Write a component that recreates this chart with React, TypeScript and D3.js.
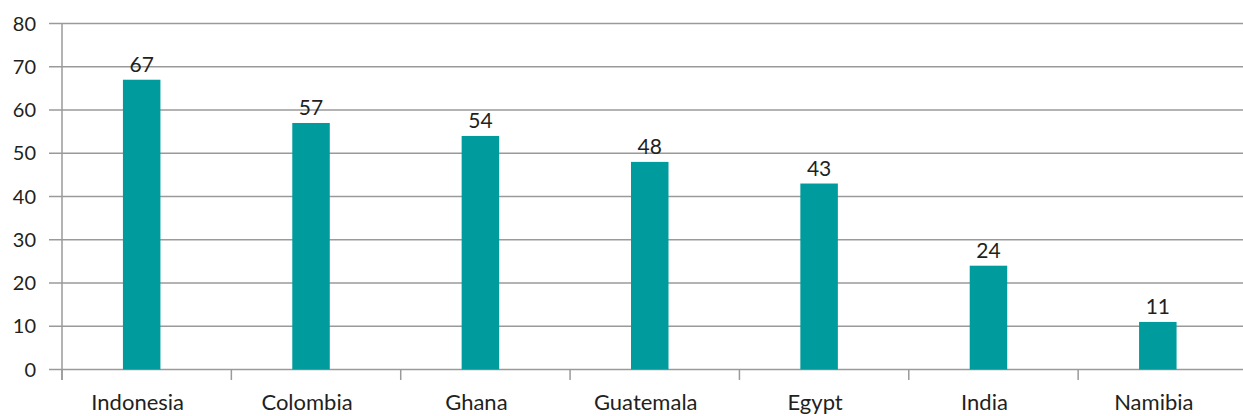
import React from "react";
import * as d3 from "d3";

const categories = ["Indonesia", "Colombia", "Ghana", "Guatemala", "Egypt", "India", "Namibia"];
const values = [67, 57, 54, 48, 43, 24, 11];
const yTicks = [0, 10, 20, 30, 40, 50, 60, 70, 80];

export default function App() {
  const W = 1243, H = 416;
  const x0 = 62, x1 = 1247.5;
  const y0 = 369.5, y1 = 23.5;
  const x = d3.scaleBand<string>().domain(categories).range([x0, x1]).paddingInner(0).paddingOuter(0);
  const y = d3.scaleLinear().domain([0, 80]).range([y0, y1]);
  const bw = 37.5;
  const shift = -5;
  const font = "Lato, 'Open Sans', sans-serif";
  const textColor = "#231f20";
  const grid = "#9a9a9a";
  return (
    <svg width={W} height={H} style={{ position: "absolute", left: 0, top: 0 }}>
      <rect width={W} height={H} fill="#fff" />
      {yTicks.map((t) => (
        <g key={t}>
          <line x1={49} x2={W} y1={y(t)} y2={y(t)} stroke={grid} strokeWidth={1.5} />
          <text x={36} y={y(t) + 7} textAnchor="end" fontFamily={font} fontSize={20} fill={textColor}>
            {t}
          </text>
        </g>
      ))}
      <line x1={x0} x2={x0} y1={y1} y2={380} stroke={grid} strokeWidth={1.5} />
      {categories.map((c) => (
        <line key={"tk" + c} x1={x(c)!} x2={x(c)!} y1={y0} y2={380} stroke={grid} strokeWidth={1.5} />
      ))}
      {categories.map((c, i) => {
        const cx = x(c)! + x.bandwidth() / 2 + shift;
        return (
          <g key={c}>
            <rect x={cx - bw / 2} y={y(values[i])} width={bw} height={y0 - y(values[i])} fill="#009b9d" />
            <text x={cx} y={y(values[i]) - 8} textAnchor="middle" fontFamily={font} fontSize={21} fill={textColor}>
              {values[i]}
            </text>
            <text x={cx - 4} y={410} textAnchor="middle" fontFamily={font} fontSize={22} fill={textColor}>
              {c}
            </text>
          </g>
        );
      })}
    </svg>
  );
}
